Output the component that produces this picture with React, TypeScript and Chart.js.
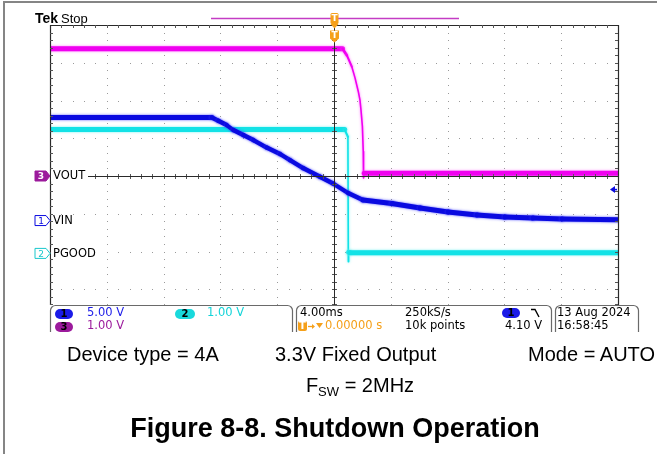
import React, { useEffect, useRef } from "react";
import { Chart, registerables } from "chart.js";
Chart.register(...registerables);

// ---- time base: 4 ms/div, 10 div, trigger at centre ----
const X_MIN_MS = -20;
const X_MAX_MS = 20;
const MS_PER_DIV = 4;

// ---- vertical: divisions relative to graticule centre (top = +4 div) ----
const Y_MAX_DIV = 4;
const Y_MIN_DIV = -3.417; // bottom of graticule is hidden by the readout

// ---- channel 3 : VOUT (1 V/div, ground at centre) ----
const VOUT_T_MS = [-20, 0.6, 0.9, 1.25, 1.48, 1.71, 1.83, 1.9, 2.0, 2.06, 2.08, 2.13, 20];
const VOUT_V = [3.37, 3.37, 3.2, 2.9, 2.6, 2.24, 2.01, 1.75, 1.31, 0.65, -0.05, 0.07, 0.07];

// ---- channel 1 : VIN (5 V/div) ----
const VIN_T_MS = [-20, -8.6, -8.15, -7.56, -7.09, -6.39, -5.68, -4.74, -3.8, -3.1, -2.18, -0.99, -0.07, 0.99, 2.04, 4.08, 6.06, 8.03, 10.07, 12.04, 14.01, 16.06, 20];
const VIN_V = [13.64, 13.64, 13.22, 12.65, 11.99, 11.32, 10.66, 9.67, 8.81, 8.01, 6.95, 5.8, 4.9, 3.64, 2.72, 2.25, 1.66, 1.13, 0.73, 0.46, 0.33, 0.2, 0.09];

// ---- channel 2 : PGOOD (1 V/div) ----
const PGOOD_T_MS = [-20, 0.75, 0.98, 1.01, 1.03, 1.12, 20];
const PGOOD_V = [3.28, 3.28, 3.09, -0.22, 0.03, 0.02, 0.02];

// channel settings
const VOLTS_PER_DIV = { vin: 5, pgood: 1, vout: 1 };
const OFFSET_DIV = { vout: 0, vin: -1.18, pgood: -2.05 };
const TRIGGER_LEVEL_V = 4.1;

const COLORS = {
  vin: "#0a0ae0",
  pgood: "#12e2e6",
  vout: "#f000f0",
  purple: "#9c1a9c",
  orange: "#f5a01a",
};
const FRINGE = ["rgba(255,90,255,0.9)", "rgba(60,60,255,0.9)", "rgba(90,240,240,0.9)"];

const toPoints = (t: number[], v: number[], vpd: number, off: number) =>
  t.map((tt, i) => ({ x: tt, y: off + v[i] / vpd }));

const segWidth = (c: any) => {
  const dx = Math.abs(c.p1.x - c.p0.x);
  const dy = Math.abs(c.p1.y - c.p0.y);
  if (dx < 1e-6) return 1.6;
  const s = dy / dx;
  return Math.max(1.6, 5 / Math.sqrt(1 + s * s));
};

const DF = "'DejaVu Sans', sans-serif";
const AF = "'Liberation Sans', Arial, sans-serif";

const scopePlugin = {
  id: "scope",
  beforeDatasetsDraw(chart: any) {
    const { ctx, scales } = chart;
    const x = scales.x, y = scales.y;
    ctx.save();
    // outer figure frame
    ctx.fillStyle = "#858585";
    ctx.fillRect(4, 1, 653, 2);
    ctx.fillRect(3, 1, 2, 453);
    // dotted graticule
    ctx.fillStyle = "#9a9a9a";
    const nX = Math.round((X_MAX_MS - X_MIN_MS) / MS_PER_DIV);
    for (let i = 1; i < nX; i++) {
      const t = X_MIN_MS + i * MS_PER_DIV;
      if (t === 0) continue;
      const px = Math.round(x.getPixelForValue(t));
      for (let k = 0; ; k++) {
        const d = Y_MAX_DIV - k * 0.2;
        if (d < Y_MIN_DIV) break;
        const py = Math.round(y.getPixelForValue(d));
        ctx.fillRect(px, py, 1, 1);
      }
    }
    for (let j = 1; j < 8; j++) {
      const d = Y_MAX_DIV - j;
      if (d === 0 || d < Y_MIN_DIV) continue;
      const py = Math.round(y.getPixelForValue(d));
      for (let k = 0; k <= nX * 5; k++) {
        const px = Math.round(x.getPixelForValue(X_MIN_MS + k * 0.8));
        ctx.fillRect(px, py, 1, 1);
      }
    }
    ctx.restore();
  },
  beforeDatasetDraw(chart: any, args: any) {
    const ctx = chart.ctx;
    ctx.save();
    ctx.shadowColor = FRINGE[args.index] || "transparent";
    ctx.shadowBlur = 2.5;
  },
  afterDatasetDraw(chart: any) {
    chart.ctx.restore();
  },
  afterDatasetsDraw(chart: any) {
    const { ctx, chartArea: a, scales } = chart;
    const x = scales.x, y = scales.y;
    ctx.save();
    const cx = Math.round(x.getPixelForValue(0)) + 0.5;
    const cy = Math.round(y.getPixelForValue(0)) + 0.5;
    // border
    ctx.strokeStyle = "#2a2a2a";
    ctx.lineWidth = 1.2;
    ctx.beginPath();
    ctx.moveTo(a.left + 0.5, a.bottom);
    ctx.lineTo(a.left + 0.5, a.top + 0.5);
    ctx.lineTo(a.right + 0.5, a.top + 0.5);
    ctx.lineTo(a.right + 0.5, a.bottom);
    ctx.stroke();
    // minor ticks on border and crosshair
    ctx.lineWidth = 1;
    ctx.strokeStyle = "#555";
    ctx.beginPath();
    for (let k = 1; k < 50; k++) {
      const px = Math.round(x.getPixelForValue(X_MIN_MS + k * 0.8)) + 0.5;
      ctx.moveTo(px, a.top); ctx.lineTo(px, a.top + 3);
      ctx.moveTo(px, cy - 2.5); ctx.lineTo(px, cy + 2.5);
    }
    for (let k = 1; ; k++) {
      const d = Y_MAX_DIV - k * 0.2;
      if (d < Y_MIN_DIV) break;
      const py = Math.round(y.getPixelForValue(d)) + 0.5;
      ctx.moveTo(a.left, py); ctx.lineTo(a.left + 3, py);
      ctx.moveTo(a.right - 3, py); ctx.lineTo(a.right, py);
      ctx.moveTo(cx - 2.5, py); ctx.lineTo(cx + 2.5, py);
    }
    ctx.stroke();
    // crosshair
    ctx.strokeStyle = "#2a2a2a";
    ctx.beginPath();
    ctx.moveTo(cx, a.top); ctx.lineTo(cx, a.bottom);
    ctx.moveTo(a.left, cy); ctx.lineTo(a.right, cy);
    ctx.stroke();

    // label backgrounds
    ctx.fillStyle = "#fff";
    ctx.fillRect(a.left + 1, cy - 6, 37, 11);
    const yVin = y.getPixelForValue(OFFSET_DIV.vin);
    const yPg = y.getPixelForValue(OFFSET_DIV.pgood);
    ctx.fillRect(a.left + 1, yPg - 6, 48, 11);

    // channel ground markers
    const pent = (cyy: number, fill: string | null, stroke: string) => {
      ctx.beginPath();
      ctx.moveTo(35, cyy - 5);
      ctx.lineTo(46, cyy - 5);
      ctx.lineTo(50, cyy);
      ctx.lineTo(46, cyy + 5);
      ctx.lineTo(35, cyy + 5);
      ctx.closePath();
      if (fill) { ctx.fillStyle = fill; ctx.fill(); }
      ctx.strokeStyle = stroke; ctx.lineWidth = 1; ctx.stroke();
    };
    pent(y.getPixelForValue(OFFSET_DIV.vout), COLORS.purple, COLORS.purple);
    pent(yVin, "#fff", COLORS.vin);
    pent(yPg, "#fff", "#18c8cc");

    // trigger level arrow
    const yTrig = y.getPixelForValue(OFFSET_DIV.vin + TRIGGER_LEVEL_V / VOLTS_PER_DIV.vin);
    ctx.fillStyle = COLORS.vin;
    ctx.strokeStyle = COLORS.vin;
    ctx.lineWidth = 1.6;
    ctx.beginPath();
    ctx.moveTo(610, yTrig); ctx.lineTo(615, yTrig - 3.5); ctx.lineTo(615, yTrig + 3.5); ctx.closePath(); ctx.fill();
    ctx.beginPath(); ctx.moveTo(614, yTrig); ctx.lineTo(a.right - 1, yTrig); ctx.stroke();

    // record view bar
    ctx.strokeStyle = "#c43cc4";
    ctx.lineWidth = 1.5;
    ctx.beginPath(); ctx.moveTo(211, 18.5); ctx.lineTo(459, 18.5); ctx.stroke();

    // trigger position markers
    const tx = cx;
    ctx.fillStyle = COLORS.orange;
    ctx.beginPath();
    ctx.roundRect(tx - 4, 13, 8, 11, 1.5);
    ctx.fill();
    ctx.beginPath(); ctx.moveTo(tx - 4, 24); ctx.lineTo(tx + 4, 24); ctx.lineTo(tx, 28.5); ctx.closePath(); ctx.fill();
    ctx.beginPath();
    ctx.moveTo(tx - 4.5, 30.5); ctx.lineTo(tx + 4.5, 30.5); ctx.lineTo(tx + 4.5, 38.5); ctx.lineTo(tx, 42.5); ctx.lineTo(tx - 4.5, 38.5); ctx.closePath(); ctx.fill();

    // readout boxes
    ctx.strokeStyle = "#6a6a6a";
    ctx.lineWidth = 1.2;
    const box = (l: number, r: number, t: number, b: number, rad: number) => {
      ctx.beginPath();
      ctx.moveTo(l, b);
      ctx.lineTo(l, t + rad);
      ctx.arcTo(l, t, l + rad, t, rad);
      ctx.lineTo(r - rad, t);
      ctx.arcTo(r, t, r, t + rad, rad);
      ctx.lineTo(r, b);
      ctx.stroke();
    };
    box(50.5, 292.5, 305.5, 332, 5);
    box(296.5, 551.5, 305.5, 332, 5);
    box(555.5, 638.5, 305.5, 332, 5);

    // trigger-delay arrow and marker
    ctx.strokeStyle = COLORS.orange; ctx.fillStyle = COLORS.orange; ctx.lineWidth = 1.3;
    ctx.beginPath(); ctx.moveTo(308, 326.5); ctx.lineTo(313, 326.5); ctx.stroke();
    ctx.beginPath(); ctx.moveTo(315, 326.5); ctx.lineTo(312, 324); ctx.lineTo(312, 329); ctx.closePath(); ctx.fill();
    ctx.beginPath(); ctx.moveTo(316, 323); ctx.lineTo(323, 323); ctx.lineTo(319.5, 328); ctx.closePath(); ctx.fill();

    // falling edge symbol
    ctx.strokeStyle = "#000"; ctx.lineWidth = 1.4;
    ctx.beginPath(); ctx.moveTo(531, 309.5); ctx.lineTo(535, 309.5); ctx.lineTo(539, 317); ctx.stroke();
    ctx.restore();
  },
};

function Txt(p: any) {
  const { x, b, size, family = DF, color = "#000", weight = 400, align = "left", children } = p;
  const style: any = {
    position: "absolute",
    top: b - 0.846 * size,
    fontSize: size,
    lineHeight: `${size}px`,
    fontFamily: family,
    color,
    fontWeight: weight,
    whiteSpace: "nowrap",
  };
  if (align === "center") { style.left = x; style.transform = "translateX(-50%)"; }
  else if (align === "right") { style.right = 657 - x; }
  else style.left = x;
  return <div style={style}>{children}</div>;
}

function Pill(p: any) {
  const { x, y, w, h, bg, color = "#000", radius, children } = p;
  return (
    <div style={{
      position: "absolute", left: x, top: y, width: w, height: h, background: bg,
      borderRadius: radius ?? h / 2, color, fontFamily: DF, fontSize: 10, fontWeight: 700,
      lineHeight: `${h}px`, textAlign: "center",
    }}>{children}</div>
  );
}

export default function App() {
  const ref = useRef<HTMLCanvasElement>(null);
  useEffect(() => {
    const chart = new Chart(ref.current as HTMLCanvasElement, {
      type: "line",
      data: {
        datasets: [
          {
            label: "VOUT",
            data: toPoints(VOUT_T_MS, VOUT_V, VOLTS_PER_DIV.vout, OFFSET_DIV.vout),
            borderColor: COLORS.vout,
            borderWidth: 5,
            segment: { borderWidth: segWidth },
          },
          {
            label: "VIN",
            data: toPoints(VIN_T_MS, VIN_V, VOLTS_PER_DIV.vin, OFFSET_DIV.vin),
            borderColor: COLORS.vin,
            borderWidth: 5,
            segment: { borderWidth: segWidth },
          },
          {
            label: "PGOOD",
            data: toPoints(PGOOD_T_MS, PGOOD_V, VOLTS_PER_DIV.pgood, OFFSET_DIV.pgood),
            borderColor: COLORS.pgood,
            borderWidth: 4.5,
            segment: { borderWidth: segWidth },
          },
        ] as any,
      },
      options: {
        animation: false,
        responsive: false,
        devicePixelRatio: 1,
        events: [],
        layout: { padding: { left: 50, top: 25, right: 39, bottom: 149 } },
        plugins: { legend: { display: false }, tooltip: { enabled: false }, title: { display: false } },
        elements: { point: { radius: 0 }, line: { tension: 0, borderCapStyle: "round", borderJoinStyle: "round" } },
        datasets: { line: { clip: 0 } } as any,
        scales: {
          x: { type: "linear", min: X_MIN_MS, max: X_MAX_MS, display: false },
          y: { type: "linear", min: Y_MIN_DIV, max: Y_MAX_DIV, display: false },
        },
      } as any,
      plugins: [scopePlugin],
    });
    return () => chart.destroy();
  }, []);

  return (
    <div style={{ position: "absolute", left: 0, top: 0, width: 657, height: 454, background: "#fff", overflow: "hidden" }}>
      <canvas ref={ref} width={657} height={454} style={{ position: "absolute", left: 0, top: 0, width: 657, height: 454 }} />
      {/* header */}
      <Txt x={35} b={23} size={14} family={AF} weight={700}>Tek</Txt>
      <Txt x={61} b={23} size={13} family={AF}>Stop</Txt>
      {/* trigger markers text */}
      <div style={{ position: "absolute", left: 330, top: 13, width: 9, height: 11, color: "#fff", fontFamily: DF, fontSize: 9, fontWeight: 700, lineHeight: "11px", textAlign: "center" }}>T</div>
      <div style={{ position: "absolute", left: 330, top: 30, width: 9, height: 10, color: "#fff", fontFamily: DF, fontSize: 9, fontWeight: 700, lineHeight: "10px", textAlign: "center" }}>T</div>
      {/* channel labels */}
      <div style={{ position: "absolute", left: 35, top: 171, width: 12, height: 10, color: "#fff", fontFamily: DF, fontSize: 9, fontWeight: 700, lineHeight: "10px", textAlign: "center" }}>3</div>
      <div style={{ position: "absolute", left: 35, top: 215.5, width: 12, height: 10, color: COLORS.vin, fontFamily: DF, fontSize: 9, lineHeight: "10px", textAlign: "center" }}>1</div>
      <div style={{ position: "absolute", left: 35, top: 248.5, width: 12, height: 10, color: "#18c8cc", fontFamily: DF, fontSize: 9, lineHeight: "10px", textAlign: "center" }}>2</div>
      <Txt x={53} b={180} size={11.5}>VOUT</Txt>
      <Txt x={53} b={225} size={11.5}>VIN</Txt>
      <Txt x={53} b={257.5} size={11.5}>PGOOD</Txt>
      {/* readout */}
      <Pill x={55} y={309} w={18} h={10} bg="#1b1be8">1</Pill>
      <Txt x={87} b={317} size={11.5} color="#1b1be8">5.00 V</Txt>
      <Pill x={175} y={309} w={20} h={10} bg="#19d9dc">2</Pill>
      <Txt x={207} b={317} size={11.5} color="#14d4d8">1.00 V</Txt>
      <Pill x={55} y={322} w={18} h={10} bg={COLORS.purple}>3</Pill>
      <Txt x={87} b={330} size={11.5} color={COLORS.purple}>1.00 V</Txt>
      <Txt x={300} b={317} size={11.5}>4.00ms</Txt>
      <Pill x={298} y={321} w={9} h={10} bg={COLORS.orange} color="#fff" radius={2}>T</Pill>
      <Txt x={325} b={330} size={11.5} color={COLORS.orange}>0.00000 s</Txt>
      <Txt x={405} b={317} size={11.5}>250kS/s</Txt>
      <Txt x={405} b={330} size={11.5}>10k points</Txt>
      <Pill x={502} y={308} w={18} h={10} bg="#1b1be8">1</Pill>
      <Txt x={505} b={330} size={11.5}>4.10 V</Txt>
      <Txt x={557} b={317} size={11.5}>13 Aug 2024</Txt>
      <Txt x={557} b={330} size={11.5}>16:58:45</Txt>
      {/* caption */}
      <Txt x={67} b={361} size={20} family={AF}>Device type = 4A</Txt>
      <Txt x={275} b={361} size={20} family={AF}>3.3V Fixed Output</Txt>
      <Txt x={655} b={361} size={20} family={AF} align="right">Mode = AUTO</Txt>
      <div style={{ position: "absolute", left: 360, top: 392 - 0.846 * 20, transform: "translateX(-50%)", fontFamily: AF, fontSize: 20, lineHeight: "20px", whiteSpace: "nowrap" }}>
        F<span style={{ fontSize: 13, position: "relative", top: 4 }}>SW</span> = 2MHz
      </div>
      <Txt x={335} b={438} size={27} family={AF} weight={700} align="center">Figure 8-8. Shutdown Operation</Txt>
    </div>
  );
}
